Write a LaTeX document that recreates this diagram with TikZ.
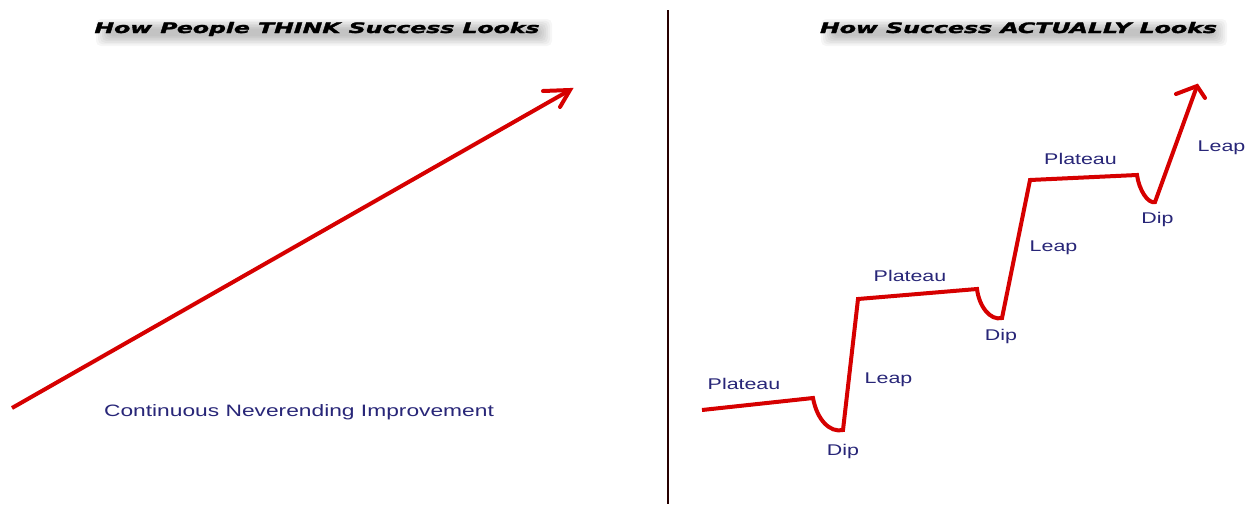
\documentclass[tikz,border=0pt]{standalone}
\usepackage{fontspec}
\usepackage{graphicx}
\newfontfamily\titlefont{DejaVu Sans}[BoldItalicFeatures={FakeBold=1.6}]
\newfontfamily\labfont{Liberation Sans}
\definecolor{curvered}{RGB}{214,0,0}
\definecolor{labnavy}{RGB}{40,38,120}
\newcommand{\wlab}[1]{\scalebox{1.38}[1]{#1}}
\newcommand{\ttl}[2]{\resizebox{#1}{11pt}{\titlefont\bfseries\itshape #2}}
\tikzset{
  curve/.style={draw=curvered, line width=4pt, line join=miter, line cap=butt},
  lab/.style={anchor=base, inner sep=0pt, text=labnavy, font=\labfont\fontsize{15.5}{18}\selectfont},
  biglab/.style={lab, font=\labfont\fontsize{16.5}{19}\selectfont},
  titlenode/.style={anchor=base, inner sep=0pt, text=black},
  hazelayer/.style={fill=black, opacity=0.035, draw=none, rounded corners=5pt},
  divider/.style={draw=black!85!red, line width=2pt}
}
\begin{document}
\begin{tikzpicture}[x=1pt, y=-1pt]
\useasboundingbox (0,0) rectangle (1246,504);
\fill[white] (0,0) rectangle (1246,504);

% divider
\coordinate (dtop) at (667.5,10);
\coordinate (dbot) at (667.5,504);
\draw[divider] (dtop) -- (dbot);

% soft blurred shadows under titles
\foreach \i in {0,...,6} {
  \fill[hazelayer] (96+2*\i,19+1.6*\i) rectangle (552-2*\i,46-1.6*\i);
  \fill[hazelayer] (821+2*\i,19+1.6*\i) rectangle (1227-2*\i,46-1.6*\i);
}

% titles
\node[titlenode] (t1) at (317,33) {\ttl{445pt}{How People THINK Success Looks}};
\node[titlenode] (t2) at (1018.5,33) {\ttl{397pt}{How Success ACTUALLY Looks}};

% left: straight arrow
\coordinate (ls) at (12,408);
\coordinate (lt) at (570,90);
\coordinate (la1) at (543,91);
\coordinate (la2) at (560,107);
\draw[curve] (ls) -- (lt);
\draw[curve, line cap=round] (la1) -- (lt) -- (la2);

\node[biglab] (cni) at (299,416) {\wlab{Continuous Neverending Improvement}};

% right: plateau / dip / leap path
\coordinate (p0) at (702,410);
\coordinate (p1) at (813,398);
\coordinate (d1) at (843,430);
\coordinate (p2) at (858,299);
\coordinate (p3) at (977,289);
\coordinate (d2) at (1002,318);
\coordinate (p4) at (1030,180);
\coordinate (p5) at (1137,175);
\coordinate (d3) at (1155,202);
\coordinate (rt) at (1197,86);
\coordinate (ra1) at (1176,94);
\coordinate (ra2) at (1205,98);

\draw[curve] (p0) -- (p1)
  .. controls (817,420) and (830,433) .. (d1)
  -- (p2) -- (p3)
  .. controls (979,306) and (990,321) .. (d2)
  -- (p4) -- (p5)
  .. controls (1139,190) and (1148,204) .. (d3)
  -- (rt);
\draw[curve, line cap=round] (ra1) -- (rt) -- (ra2);

% labels
\node[lab] (pl1) at (744,389) {\wlab{Plateau}};
\node[lab] (le1) at (888.5,383) {\wlab{Leap}};
\node[lab] (di1) at (843,455.5) {\wlab{Dip}};
\node[lab] (pl2) at (910,281) {\wlab{Plateau}};
\node[lab] (di2) at (1001,340.5) {\wlab{Dip}};
\node[lab] (le2) at (1053.5,251.5) {\wlab{Leap}};
\node[lab] (pl3) at (1080.5,164) {\wlab{Plateau}};
\node[lab] (di3) at (1157.5,223) {\wlab{Dip}};
\node[lab] (le3) at (1221.5,151) {\wlab{Leap}};
\end{tikzpicture}
\end{document}
